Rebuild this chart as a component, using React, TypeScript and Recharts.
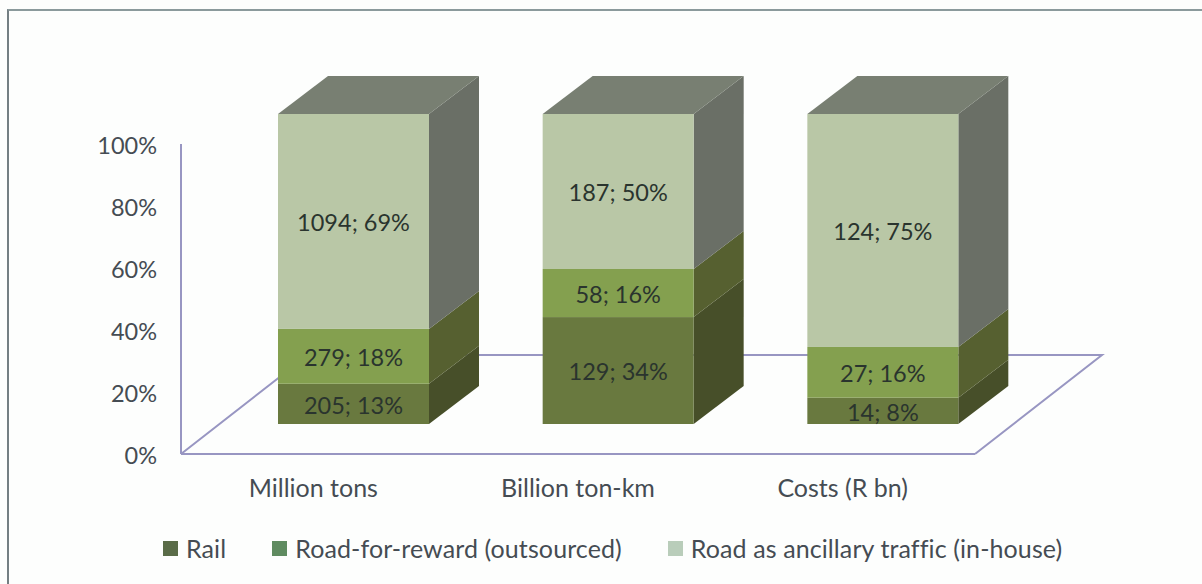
import React from "react";
import { BarChart, Bar, XAxis, YAxis, Legend, ReferenceArea } from "recharts";

const categories = ["Million tons", "Billion ton-km", "Costs (R bn)"];
const rail = [205, 129, 14];
const road = [279, 58, 27];
const ancillary = [1094, 187, 124];
const railPct = [13, 34, 8];
const roadPct = [18, 16, 16];
const ancillaryPct = [69, 50, 75];
const yTicks = [0, 0.2, 0.4, 0.6, 0.8, 1];

const rows = categories.map((name, i) => ({
  name,
  rail: rail[i],
  road: road[i],
  ancillary: ancillary[i],
}));

const FONT = "Lato, 'Open Sans', sans-serif";
const AXIS_LINE = "#9896c2";
const TEXT = "#454c53";

/* bars sit further back on the floor than the axis, then extrude up and right */
const OFFSET_X = 40;
const OFFSET_Y = -30;
const DEPTH_X = 50;
const DEPTH_Y = -38;

function makeBox(side: string, pcts: number[], values: number[], top?: string) {
  return function Box(props: any) {
    const { x, y, width, height, fill, index } = props;
    const l = x + OFFSET_X;
    const t = y + OFFSET_Y;
    const r = l + width;
    const b = t + height;
    return (
      <g>
        <polygon
          points={`${r},${t} ${r + DEPTH_X},${t + DEPTH_Y} ${r + DEPTH_X},${b + DEPTH_Y} ${r},${b}`}
          fill={side}
        />
        {top && (
          <polygon
            points={`${l},${t} ${l + DEPTH_X},${t + DEPTH_Y} ${r + DEPTH_X},${t + DEPTH_Y} ${r},${t}`}
            fill={top}
          />
        )}
        <rect x={l} y={t} width={width} height={height} fill={fill} />
        <text
          x={l + width / 2}
          y={t + height / 2 + 1.5}
          dy="0.35em"
          textAnchor="middle"
          fontFamily={FONT}
          fontSize={23.5}
          fill="#2a342e"
        >
          {`${values[index]}; ${pcts[index]}%`}
        </text>
      </g>
    );
  };
}

/* floor of the 3D plot: back and right edges, the axes draw the other two */
function Floor(props: any) {
  const { x, y, width, height } = props;
  const bottom = y + height;
  const backY = bottom - 99;
  return (
    <polyline
      points={`${x},${bottom} ${x + 127},${backY} ${x + width + 127},${backY} ${x + width},${bottom}`}
      fill="none"
      stroke={AXIS_LINE}
      strokeWidth={2}
    />
  );
}

function PercentTick(props: any) {
  const { x, y, payload } = props;
  return (
    <text x={x} y={y + 2} dy="0.35em" textAnchor="end" fontFamily={FONT} fontSize={23.5} fill={TEXT}>
      {`${Math.round(payload.value * 100)}%`}
    </text>
  );
}

const legendItems = [
  { label: "Rail", color: "#5a6c48" },
  { label: "Road-for-reward (outsourced)", color: "#5f8b60" },
  { label: "Road as ancillary traffic (in-house)", color: "#b9cdba" },
];

function ChartLegend() {
  return (
    <div style={{ display: "flex", gap: 46, paddingLeft: 163, fontFamily: FONT, fontSize: 25, color: TEXT, letterSpacing: 0.1 }}>
      {legendItems.map((it) => (
        <div key={it.label} style={{ display: "flex", alignItems: "center", gap: 8 }}>
          <span style={{ width: 15, height: 15, background: it.color, display: "inline-block" }} />
          <span>{it.label}</span>
        </div>
      ))}
    </div>
  );
}

export default function App() {
  return (
    <div style={{ position: "absolute", left: 0, top: 0, width: 1202, height: 584, background: "#fdfefd", overflow: "hidden" }}>
      <div
        style={{
          position: "absolute",
          left: 7,
          top: 9,
          right: -4,
          bottom: -4,
          borderLeft: "2px solid #747f83",
          borderTop: "2px solid #8b9a9c",
        }}
      />
      <BarChart
        width={1202}
        height={584}
        data={rows}
        stackOffset="expand"
        barSize={151}
        margin={{ top: 144, right: 227, bottom: 70, left: 121 }}
      >
        <ReferenceArea y1={0} y2={1} shape={Floor} ifOverflow="visible" />
        <XAxis
          dataKey="name"
          height={30}
          tickLine={false}
          axisLine={{ stroke: AXIS_LINE, strokeWidth: 2 }}
          tick={{ fontFamily: FONT, fontSize: 25, fill: TEXT }}
          tickMargin={19}
        />
        <YAxis
          width={60}
          domain={[0, 1]}
          ticks={yTicks}
          tickLine={false}
          axisLine={{ stroke: AXIS_LINE, strokeWidth: 2 }}
          tick={PercentTick}
          tickMargin={18}
        />
        <Legend content={<ChartLegend />} verticalAlign="bottom" wrapperStyle={{ left: 0, bottom: 21, width: 1202 }} />
        <Bar dataKey="rail" stackId="a" fill="#69793f" shape={makeBox("#474f29", railPct, rail)} isAnimationActive={false} />
        <Bar dataKey="road" stackId="a" fill="#84a04f" shape={makeBox("#566030", roadPct, road)} isAnimationActive={false} />
        <Bar
          dataKey="ancillary"
          stackId="a"
          fill="#b9c7a6"
          shape={makeBox("#6a6f66", ancillaryPct, ancillary, "#787f72")}
          isAnimationActive={false}
        />
      </BarChart>
    </div>
  );
}
